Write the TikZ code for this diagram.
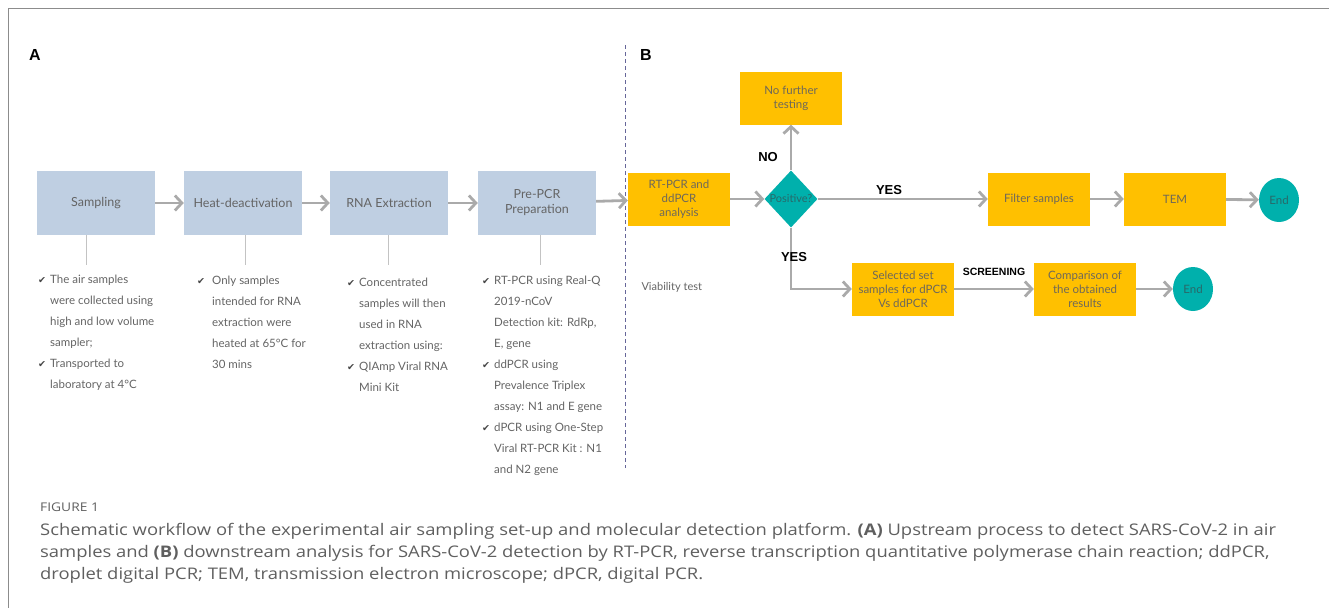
\documentclass[tikz,border=0pt]{standalone}
\usepackage{fontspec}
\setmainfont{Lato}
\newfontfamily\headfont{Liberation Sans}
\newfontfamily\symfont{DejaVu Sans}
\newfontfamily\capfont[FakeStretch=1.15]{Open Sans}
\usetikzlibrary{arrows.meta,shapes.geometric,positioning}

\definecolor{stepblue}{RGB}{191,207,226}
\definecolor{stepgold}{RGB}{255,192,0}
\definecolor{endteal}{RGB}{0,176,172}
\definecolor{flowgray}{RGB}{170,170,170}
\definecolor{textgray}{RGB}{100,100,100}
\definecolor{tickgray}{RGB}{70,70,70}
\definecolor{goldtext}{RGB}{110,104,90}
\definecolor{tealtext}{RGB}{40,105,105}
\definecolor{capgray}{RGB}{95,95,95}
\definecolor{framegray}{RGB}{140,140,140}

\newcommand{\checkmk}{{\symfont\fontsize{9.5}{9.5}\selectfont\color{tickgray}✔}}

\tikzset{
  upbox/.style={fill=stepblue, minimum width=118pt, minimum height=64pt, inner sep=0pt,
    text=textgray, align=center, font=\fontsize{12.5}{15}\selectfont},
  gobox/.style={fill=stepgold, minimum width=102pt, minimum height=53pt, inner sep=0pt,
    text=goldtext, align=center, font=\fontsize{11.5}{14}\selectfont},
  endnode/.style={ellipse, fill=endteal, minimum width=40pt, minimum height=44pt, inner sep=0pt,
    text=tealtext, font=\fontsize{11.5}{14}\selectfont},
  decision/.style={diamond, fill=endteal, minimum width=53pt, minimum height=57pt, inner sep=0pt},
  flow/.style={draw=flowgray, line width=2.8pt, -{Straight Barb[length=7pt,width=15pt]}},
  stem/.style={draw=flowgray!70, line width=0.8pt},
  tagtext/.style={font=\headfont\bfseries\fontsize{13}{13}\selectfont},
  listtext/.style={anchor=base west, inner sep=0pt, text=textgray, font=\fontsize{11.5}{21}\selectfont},
  captext/.style={anchor=base west, inner sep=0pt, text=capgray, font=\capfont\fontsize{16}{21}\selectfont}
}

\begin{document}
\begin{tikzpicture}[x=1pt,y=-1pt]
  \useasboundingbox (0,0) rectangle (1329,608);

  % Frame and divider
  \draw[framegray, line width=1pt] (1329,8) -- (8,8) -- (8,608);
  \draw[gray!80!blue, line width=0.8pt, dash pattern=on 4pt off 3pt] (625,45) -- (625,468);

  % Panel letters
  \node[font=\headfont\bfseries\fontsize{16}{16}\selectfont] (letA) at (35,55) {A};
  \node[font=\headfont\bfseries\fontsize{16}{16}\selectfont] (letB) at (646,55) {B};

  % Upstream steps
  \node[upbox] (samp) at (96,203) {Sampling};
  \node[upbox] (heat) at (243,203) {Heat-deactivation};
  \node[upbox] (rna) at (389,203) {RNA Extraction};
  \node[upbox] (prep) at (537,203) {Pre-PCR\\Preparation};

  \draw[flow] (samp) -- (heat);
  \draw[flow] (heat) -- (rna);
  \draw[flow] (rna) -- (prep);

  % Stems down to the notes
  \coordinate (n1) at (86,265);
  \coordinate (n2) at (245,265);
  \coordinate (n3) at (388,265);
  \coordinate (n4) at (540,265);
  \draw[stem] (samp.south -| n1) -- (n1);
  \draw[stem] (heat.south -| n2) -- (n2);
  \draw[stem] (rna.south -| n3) -- (n3);
  \draw[stem] (prep.south -| n4) -- (n4);

  % Notes under each step
  \node[listtext] (note1) at (38,283) {\begin{tabular}[t]{@{}l@{\hspace{4pt}}l@{}}
    \checkmk & The air samples\\ & were collected using\\ & high and low volume\\ & sampler;\\
    \checkmk & Transported to\\ & laboratory at 4°C\end{tabular}};
  \node[listtext] (note2) at (197,284) {\begin{tabular}[t]{@{}l@{\hspace{7pt}}l@{}}
    \checkmk & Only samples\\ & intended for RNA\\ & extraction were\\ & heated at 65°C for\\
    & 30 mins\end{tabular}};
  \node[listtext] (note3) at (347,286) {\begin{tabular}[t]{@{}l@{\hspace{4pt}}l@{}}
    \checkmk & Concentrated\\ & samples will then\\ & used in RNA\\ & extraction using:\\
    \checkmk & QIAmp Viral RNA\\ & Mini Kit\end{tabular}};
  \node[listtext] (note4) at (482,284) {\begin{tabular}[t]{@{}l@{\hspace{4pt}}l@{}}
    \checkmk & RT-PCR using Real-Q\\ & 2019-nCoV\\ & Detection kit: RdRp,\\ & E, gene\\
    \checkmk & ddPCR using\\ & Prevalence Triplex\\ & assay: N1 and E gene\\
    \checkmk & dPCR using One-Step\\ & Viral RT-PCR Kit : N1\\ & and N2 gene\end{tabular}};

  % Downstream analysis
  \node[gobox] (rtpcr) at (679,199) {RT-PCR and\\ddPCR\\analysis};
  \node[decision, label={[text=tealtext, font=\fontsize{11}{13}\selectfont]center:Positive?}] (pos) at (791,199) {};
  \node[gobox] (nofur) at (791,98) {No further\\testing};
  \node[gobox] (filt) at (1039,199) {Filter samples};
  \node[gobox] (tem) at (1175,199) {TEM};
  \node[endnode] (end1) at (1279,200) {End};
  \node[gobox] (sel) at (903,289) {Selected set\\samples for dPCR\\Vs ddPCR};
  \node[gobox] (comp) at (1085,289) {Comparison of\\the obtained\\results};
  \node[endnode] (end2) at (1193,289) {End};

  \draw[flow] (prep) -- (rtpcr);
  \draw[flow] (rtpcr) -- (pos);
  \draw[flow] (pos) -- (nofur);
  \draw[flow] (pos) -- (filt);
  \draw[flow] (filt) -- (tem);
  \draw[flow] (tem) -- (end1);
  \draw[flow] (pos.south) |- (sel.west);
  \draw[flow] (sel) -- (comp);
  \draw[flow] (comp) -- (end2);

  % Branch labels
  \node[tagtext] (no) at (768,157) {NO};
  \node[tagtext] (yes1) at (889,190) {YES};
  \node[tagtext] (yes2) at (794,257) {YES};
  \node[tagtext, font=\headfont\bfseries\fontsize{10.5}{11}\selectfont] (scr) at (994,272) {SCREENING};
  \node[anchor=west, text=textgray, font=\fontsize{11}{13}\selectfont] (viab) at (638,287) {Viability test};

  % Caption
  \node[captext, font=\capfont\fontsize{12}{14}\selectfont] (fig) at (40,511) {FIGURE 1};
  \node[captext] (cap1) at (40,535)
    {Schematic workflow of the experimental air sampling set-up and molecular detection platform. \textbf{(A)} Upstream process to detect SARS-CoV-2 in air};
  \node[captext] (cap2) at (40,557)
    {samples and \textbf{(B)} downstream analysis for SARS-CoV-2 detection by RT-PCR, reverse transcription quantitative polymerase chain reaction; ddPCR,};
  \node[captext] (cap3) at (40,579)
    {droplet digital PCR; TEM, transmission electron microscope; dPCR, digital PCR.};
\end{tikzpicture}
\end{document}
